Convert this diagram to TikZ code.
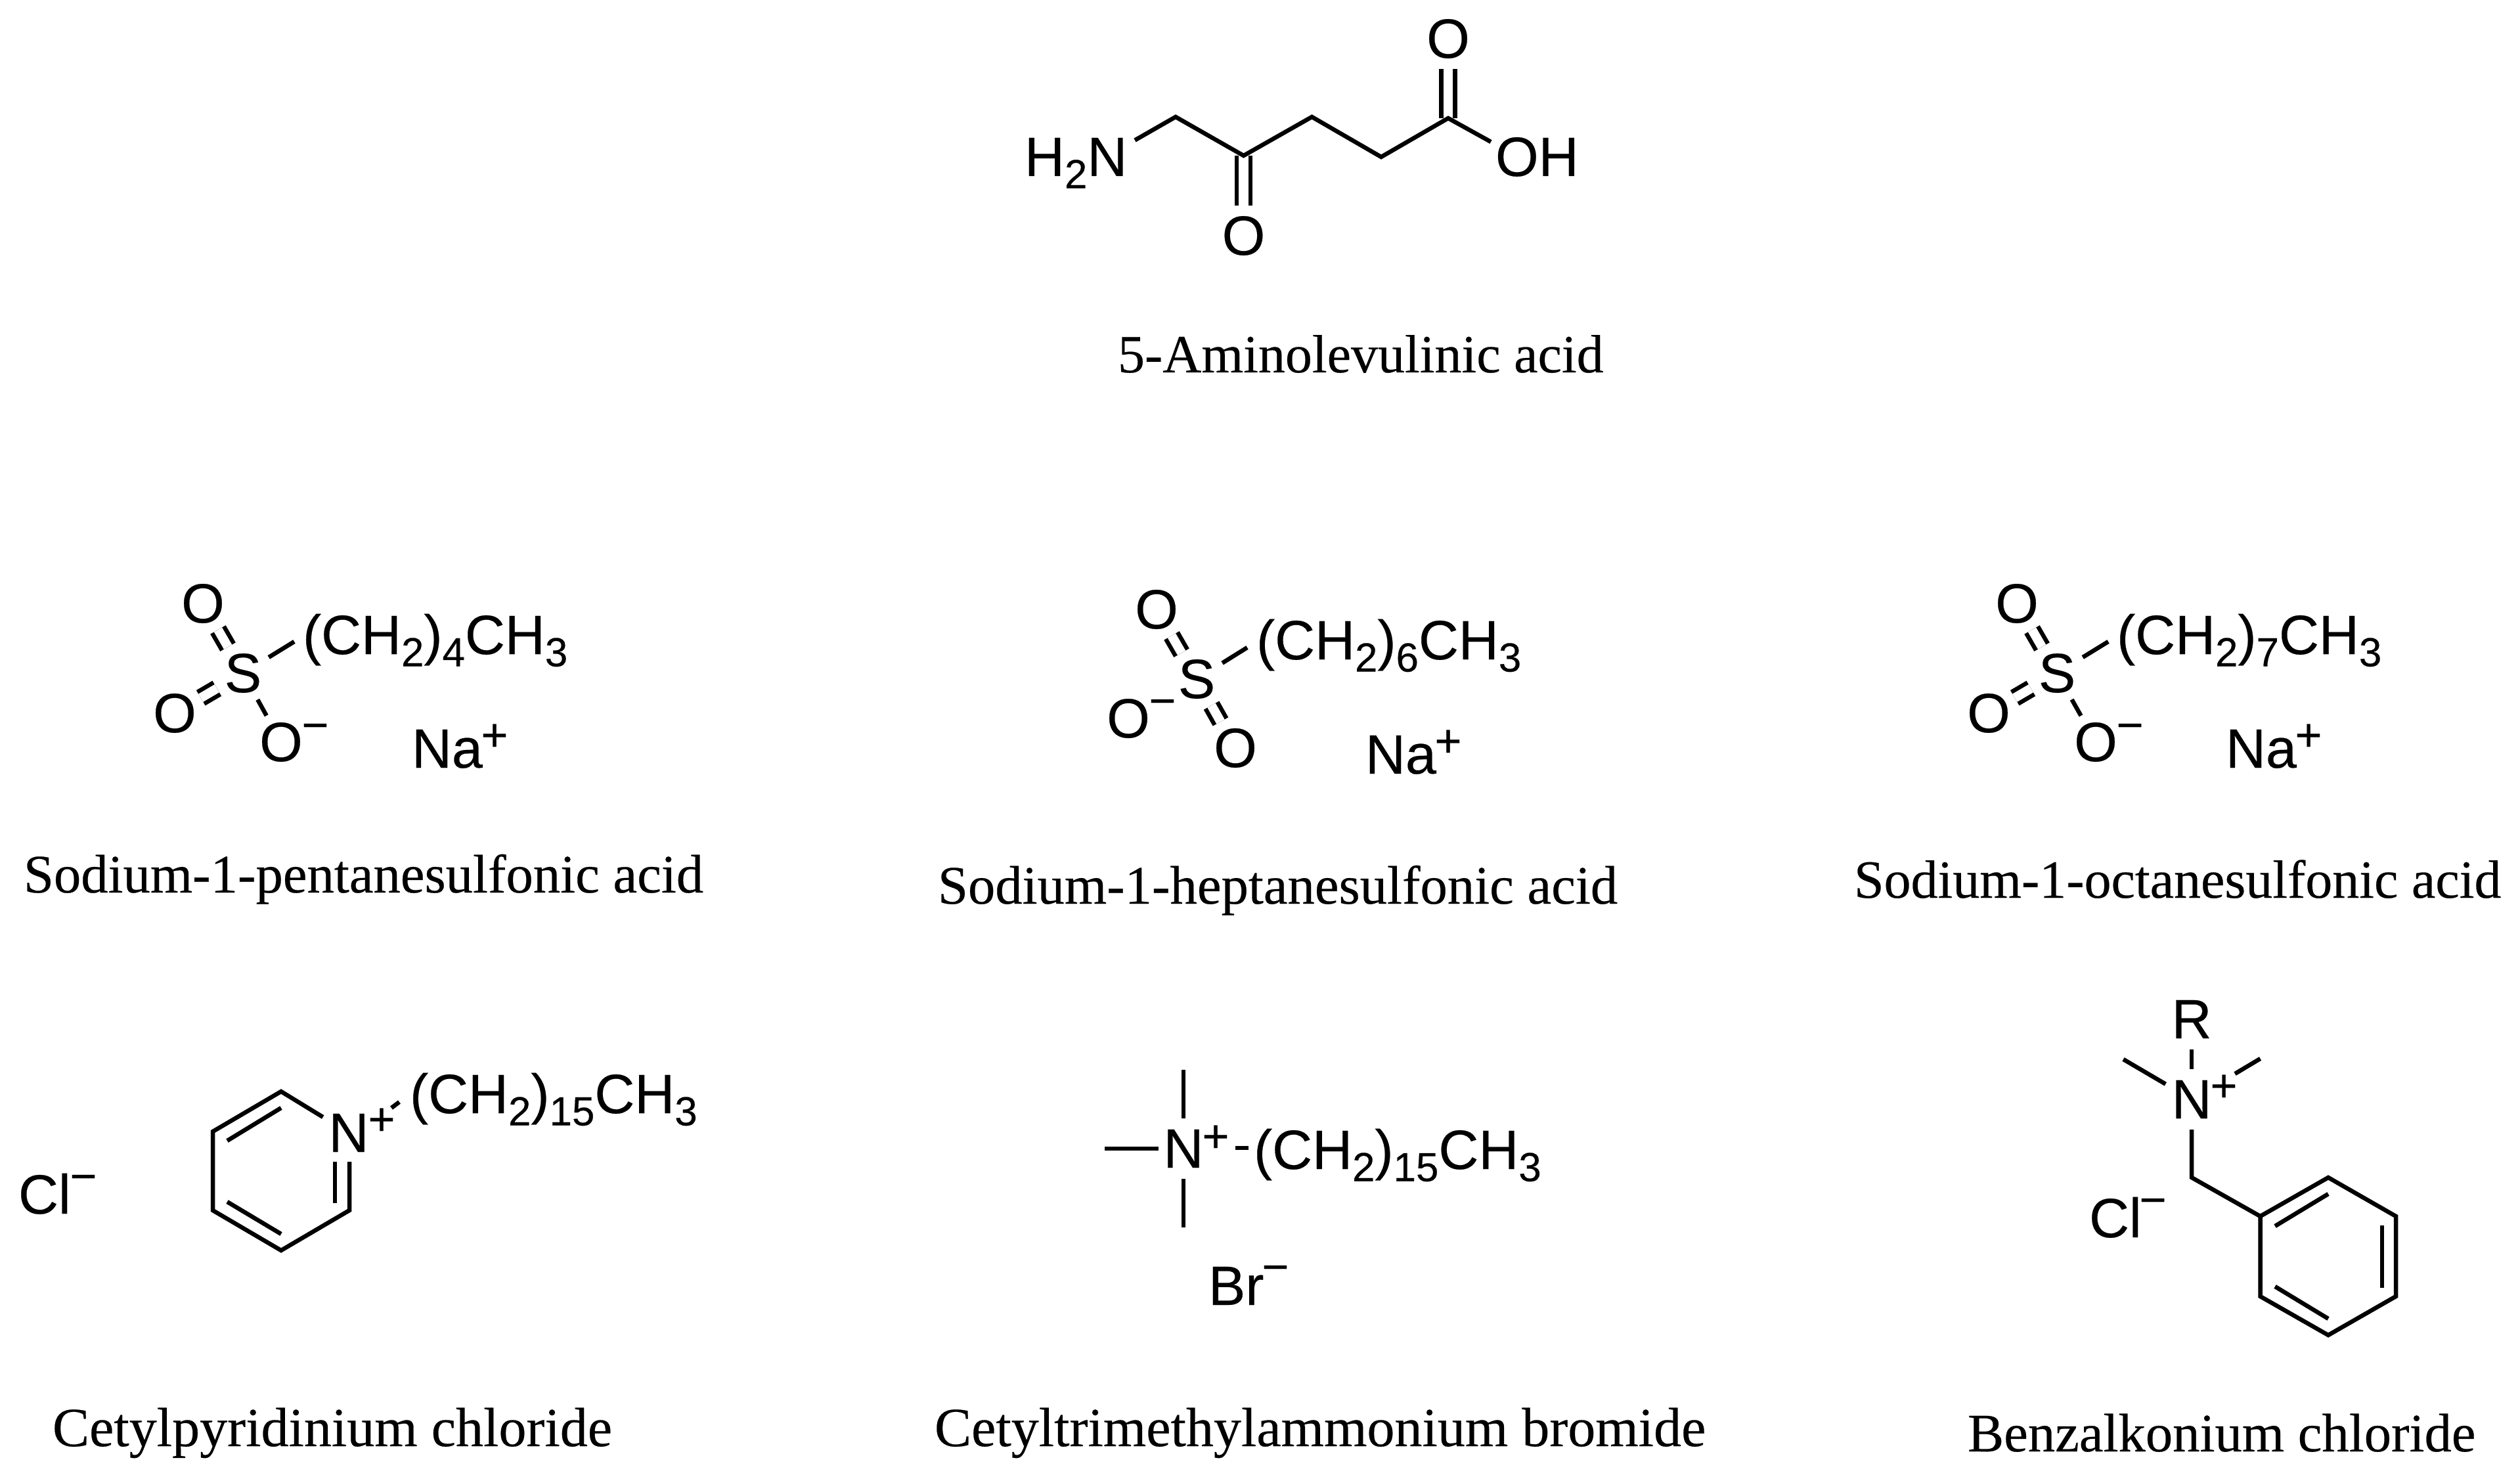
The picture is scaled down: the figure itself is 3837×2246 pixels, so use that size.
\documentclass[tikz,border=0pt]{standalone}
\usepackage{fontspec}
\newfontfamily\chemfont[FakeBold=0.3]{Liberation Sans}
\newfontfamily\titlefont[FakeBold=0.3]{Liberation Serif}
\newcommand{\dn}[1]{\raisebox{-0.22em}{\fontsize{17.6}{17.6}\selectfont #1}}
\newcommand{\alkyl}[1]{(CH\dn{2})\dn{#1}CH\dn{3}}
\tikzset{
    atomfont/.style={font=\chemfont\fontsize{24}{24}\selectfont},
    atom/.style={atomfont, circle, minimum size=0.92cm, inner sep=0pt, outer sep=0pt},
    group/.style={atomfont, anchor=base west, inner sep=0pt, outer sep=0pt},
    charge/.style={font=\chemfont\fontsize{20}{20}\selectfont, inner sep=0pt, outer sep=0pt},
    title/.style={font=\titlefont\fontsize{#1}{#1}\selectfont, anchor=base west, inner sep=0pt, outer sep=0pt},
    bond/.style={line width=1.85pt},
    dbond/.style={line width=1.85pt, double, double distance=4pt}
}

\begin{document}
\begin{tikzpicture}[x=0.01cm, y=-0.01cm]
        \useasboundingbox (0, 0) rectangle (3837, 2246);

        \node [group] (H2N) at (1560, 268) {H\dn{2}N};
        \node [group] (OH) at (2277, 268) {OH};
        \node [atom] (Oa) at (2205, 59) {O};
        \node [atom] (Ob) at (1893.5, 359) {O};
        \coordinate (Na0) at (1728, 213.5);
        \coordinate (a1) at (1790, 178);
        \coordinate (a2) at (1893.5, 237);
        \coordinate (a3) at (1997.5, 178);
        \coordinate (a4) at (2103, 239);
        \coordinate (a5) at (2205, 180);
        \coordinate (Oh0) at (2270, 216);
        \draw [dbond] (Oa) -- (a5);
        \draw [dbond] (Ob) -- (a2);
        \draw [bond] (Na0) -- (a1) -- (a2) -- (a3) -- (a4) -- (a5) -- (Oh0);
        \node [title=23.3] (ala) at (1702, 567) {5-Aminolevulinic acid};

        \node [atom] (S1) at (370, 1025) {S};
        \node [atom] (O1a) at (309, 919) {O};
        \node [atom] (O1b) at (266, 1086) {O};
        \node [atom] (O1c) at (428, 1130) {O};
        \node [charge] (m1) at (480, 1115) {−};
        \node [group] (C1) at (461, 996) {\alkyl{4}};
        \node [group] (Na1) at (627, 1169) {Na};
        \node [charge] (p1) at (753, 1123) {+};
        \coordinate (s1) at (448, 977);
        \draw [dbond] (S1) -- (O1a);
        \draw [dbond] (S1) -- (O1b);
        \draw [bond] (S1) -- (O1c);
        \draw [bond] (S1) -- (s1);
        \node [title=23.5] (penta) at (36, 1359) {Sodium-1-pentanesulfonic acid};

        \node [atom] (S2) at (1822, 1034) {S};
        \node [atom] (O2a) at (1761, 928) {O};
        \node [atom] (O2b) at (1718, 1094) {O};
        \node [atom] (O2c) at (1881, 1139) {O};
        \node [charge] (m2) at (1770, 1078) {−};
        \node [group] (C2) at (1913, 1004) {\alkyl{6}};
        \node [group] (Na2) at (2079, 1178) {Na};
        \node [charge] (p2) at (2205, 1132) {+};
        \coordinate (s2) at (1899, 986);
        \draw [dbond] (S2) -- (O2a);
        \draw [dbond] (S2) -- (O2c);
        \draw [bond] (S2) -- (s2);
        \node [title=23.5] (hepta) at (1428, 1376) {Sodium-1-heptanesulfonic acid};

        \node [atom] (S3) at (3132, 1025) {S};
        \node [atom] (O3a) at (3071, 919) {O};
        \node [atom] (O3b) at (3028, 1086) {O};
        \node [atom] (O3c) at (3191, 1130) {O};
        \node [charge] (m3) at (3243, 1115) {−};
        \node [group] (C3) at (3223, 996) {\alkyl{7}};
        \node [group] (Na3) at (3389, 1169) {Na};
        \node [charge] (p3) at (3515, 1123) {+};
        \coordinate (s3) at (3210, 977);
        \draw [dbond] (S3) -- (O3a);
        \draw [dbond] (S3) -- (O3b);
        \draw [bond] (S3) -- (O3c);
        \draw [bond] (S3) -- (s3);
        \node [title=23.3] (octa) at (2823, 1367) {Sodium-1-octanesulfonic acid};

        \node [atom] (N4) at (531, 1725) {N};
        \node [charge] (p4) at (581, 1708) {+};
        \node [group] (C4) at (624, 1695) {\alkyl{15}};
        \node [group] (Cl4) at (28, 1848) {Cl};
        \node [charge] (m4) at (127, 1802) {−};
        \coordinate (r1) at (428, 1662);
        \coordinate (r2) at (324, 1723);
        \coordinate (r3) at (324, 1843);
        \coordinate (r4) at (428, 1904);
        \coordinate (r5) at (532, 1843);
        \coordinate (r6) at (532, 1769);
        \coordinate (i1) at (428, 1687);
        \coordinate (i2) at (346, 1737);
        \coordinate (i3) at (346, 1830);
        \coordinate (i4) at (428, 1879);
        \coordinate (i5) at (510, 1832);
        \coordinate (i6) at (510, 1769);
        \coordinate (t1) at (596, 1687);
        \coordinate (t2) at (608, 1678);
        \draw [bond] (N4) -- (r1) -- (r2) -- (r3) -- (r4) -- (r5) -- (r6);
        \draw [bond] (i1) -- (i2);
        \draw [bond] (i3) -- (i4);
        \draw [bond] (i5) -- (i6);
        \draw [bond] (t1) -- (t2);
        \node [title=23.9] (cpc) at (80, 2202) {Cetylpyridinium chloride};

        \node [atom] (N5) at (1802, 1749) {N};
        \node [charge] (p5) at (1851, 1734) {+};
        \node [group] (C5) at (1909, 1780) {\alkyl{15}};
        \node [group] (Br5) at (1840, 1987) {Br};
        \node [charge] (m5) at (1942, 1940) {−};
        \coordinate (q1) at (1802, 1629);
        \coordinate (q2) at (1802, 1869);
        \coordinate (q3) at (1682, 1749);
        \coordinate (q4) at (1764, 1749);
        \coordinate (q5) at (1881, 1748);
        \coordinate (q6) at (1901, 1748);
        \draw [bond] (q1) -- (N5);
        \draw [bond] (q2) -- (N5);
        \draw [bond] (q3) -- (q4);
        \draw [bond] (q5) -- (q6);
        \node [title=23.9] (ctab) at (1423, 2202) {Cetyltrimethylammonium bromide};

        \node [atom] (N6) at (3337, 1674) {N};
        \node [atom] (R6) at (3337, 1552) {R};
        \node [charge] (p6) at (3386, 1657) {+};
        \node [group] (Cl6) at (3181, 1884) {Cl};
        \node [charge] (m6) at (3278, 1838) {−};
        \coordinate (k1) at (3233, 1613);
        \coordinate (k2) at (3441.5, 1612);
        \coordinate (k3) at (3403, 1635);
        \coordinate (b0) at (3337, 1793);
        \coordinate (b1) at (3441.5, 1852);
        \coordinate (b2) at (3545, 1793);
        \coordinate (b3) at (3648, 1852);
        \coordinate (b4) at (3648, 1974);
        \coordinate (b5) at (3545, 2033);
        \coordinate (b6) at (3441.5, 1974);
        \coordinate (j1) at (3464, 1867);
        \coordinate (j2) at (3545, 1818);
        \coordinate (j3) at (3627, 1866);
        \coordinate (j4) at (3627, 1961);
        \coordinate (j5) at (3545, 2008);
        \coordinate (j6) at (3464, 1959);
        \draw [bond] (R6) -- (N6);
        \draw [bond] (k1) -- (N6);
        \draw [bond] (k2) -- (k3);
        \draw [bond] (N6) -- (b0) -- (b1);
        \draw [bond] (b1) -- (b2) -- (b3) -- (b4) -- (b5) -- (b6) -- cycle;
        \draw [bond] (j1) -- (j2);
        \draw [bond] (j3) -- (j4);
        \draw [bond] (j5) -- (j6);
        \node [title=23.5] (bzk) at (2996, 2210) {Benzalkonium chloride};
\end{tikzpicture}
\end{document}
